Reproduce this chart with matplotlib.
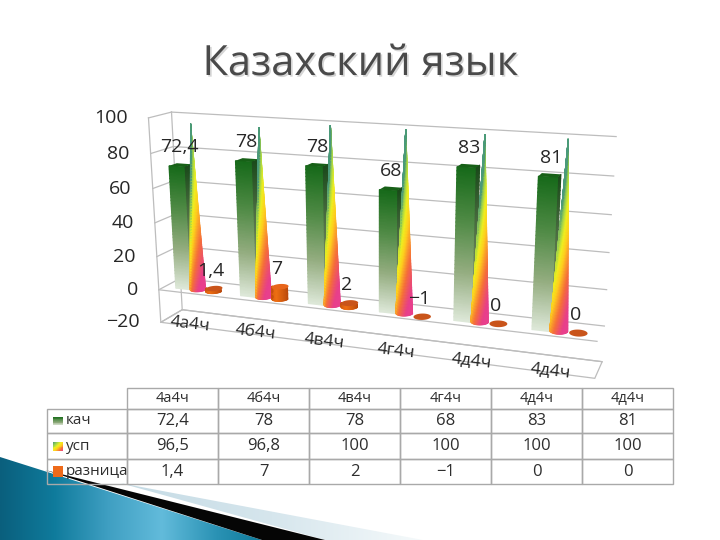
import numpy as np
import matplotlib
matplotlib.use('Agg')
import matplotlib.pyplot as plt
import matplotlib.patheffects as pe
from matplotlib.colors import LinearSegmentedColormap
from matplotlib.patches import Polygon

plt.rcParams['font.family'] = ['Open Sans', 'DejaVu Sans']

# data
classes = ['4а4ч', '4б4ч', '4в4ч', '4г4ч', '4д4ч', '4д4ч']
kach = [72.4, 78, 78, 68, 83, 81]
usp = [96.5, 96.8, 100, 100, 100, 100]
raznica = [1.4, 7, 2, -1, 0, 0]
series_names = ['кач', 'усп', 'разница']
value_ticks = [-20, 0, 20, 40, 60, 80, 100]

fig = plt.figure(figsize=(7.2, 5.4), dpi=100)
ax = fig.add_axes([0, 0, 1, 1])
ax.set_xlim(0, 720)
ax.set_ylim(540, 0)
ax.set_autoscale_on(False)
ax.axis('off')

# perspective of the box: (category, depth, value) -> pixel
n = len(classes)
box = [(0, 0, 100, 148, 118), (n, 0, 100, 609, 145),
       (0, 0, -20, 161, 322), (n, 0, -20, 595, 378),
       (0, 1, 100, 172, 112), (n, 1, 100, 616, 136),
       (0, 1, -20, 182, 310), (n, 1, -20, 602, 362)]
rows, rhs = [], []
for x, d, z, px, py in box:
    rows.append([x, d, z, 1, 0, 0, 0, 0, -px * x, -px * d, -px * z])
    rows.append([0, 0, 0, 0, x, d, z, 1, -py * x, -py * d, -py * z])
    rhs += [px, py]
P = np.linalg.lstsq(np.array(rows, float), np.array(rhs, float), rcond=None)[0]
P = np.append(P, 1).reshape(3, 4)


def project(x, d, z):
    x, d, z = np.broadcast_arrays(x, d, z)
    w = P[2, 0] * x + P[2, 1] * d + P[2, 2] * z + P[2, 3]
    px = (P[0, 0] * x + P[0, 1] * d + P[0, 2] * z + P[0, 3]) / w
    py = (P[1, 0] * x + P[1, 1] * d + P[1, 2] * z + P[1, 3]) / w
    return px, py


def line3(a, b, **kw):
    xs, ys = project(np.array([a[0], b[0]]), np.array([a[1], b[1]]), np.array([a[2], b[2]]))
    ax.plot(xs, ys, color='#bdbdbd', lw=0.9, zorder=2, **kw)


# decoration in the corner
corner = ax.imshow(np.linspace(0, 1, 256).reshape(1, -1), extent=(0, 270, 540, 455), aspect='auto', zorder=1,
                   cmap=LinearSegmentedColormap.from_list('c', ['#0a5f7d', '#0f7b9c', '#3f9fc2', '#62bbdb', '#2b93b5', '#0a7696']))
corner.set_clip_path(Polygon([(0, 457), (262, 540), (0, 540)], transform=ax.transData))
pale = ax.imshow(np.linspace(0, 1, 256).reshape(1, -1), extent=(120, 425, 540, 480), aspect='auto', zorder=1,
                 cmap=LinearSegmentedColormap.from_list('p', ['#c5dbe5', '#d6e6ed', '#f6fafb']))
pale.set_clip_path(Polygon([(120, 483), (423, 540), (325, 540)], transform=ax.transData))
ax.add_patch(Polygon([(45, 470), (325, 540), (262, 540)], fc='#050505', ec='none', zorder=1))

# walls and floor
floor = np.array([project(0, 0, -20), project(n, 0, -20), project(n, 1, -20), project(0, 1, -20)])
ax.add_patch(Polygon(floor, fc='white', ec='#bdbdbd', lw=0.9, zorder=2))
for v in value_ticks:
    line3((0, 1, v), (n, 1, v))
    line3((0, 0, v), (0, 1, v))
    tx, ty = project(0, 0, v)
    label = str(v).replace('-', '−')
    ax.text(tx - 21, ty, label, ha='right', va='center', fontsize=14, color='#262626', zorder=6)
line3((0, 0, 0), (n, 0, 0))
line3((0, 0, -20), (0, 0, 100))
line3((0, 1, -20), (0, 1, 100))

green_front = LinearSegmentedColormap.from_list('gf', ['#dfe9da', '#94ad80', '#4f8a45', '#176a1a'])
green_side = LinearSegmentedColormap.from_list('gs', ['#a3b096', '#5e7a50', '#1b4a1b'])
cone_map = LinearSegmentedColormap.from_list('cone', [(0, '#e83f8c'), (0.2, '#f6703a'), (0.42, '#ffd01e'),
                                                      (0.58, '#f0f020'), (0.75, '#a6d84a'), (1, '#4a9a7a')])
orange_side = LinearSegmentedColormap.from_list('os', ['#b8480c', '#ef6f12', '#c5500c'])

bar_left, bar_w = 0.18, 0.23
bar_d0, bar_d1 = 0.25, 0.6
cone_c, cyl_c, radius = 0.5, 0.74, 0.11
depth_c, depth_r = 0.37, 0.22
t = np.linspace(0, np.pi, 25)


def mesh(X, Y, C, cmap, z):
    ax.pcolormesh(X, Y, C, cmap=cmap, vmin=0, vmax=1, shading='gouraud', zorder=z)


for i in range(n):
    base = 3 + i * 0.01
    # green bar
    x0, x1 = i + bar_left, i + bar_left + bar_w
    zs = np.linspace(0, kach[i], 41).reshape(-1, 1)
    C = np.tile(zs / kach[i], (1, 2))
    X, Y = project(np.array([[x0, x1]]), bar_d0, zs)
    Xs, Ys = project(x1, np.array([[bar_d0, bar_d1]]), zs)
    mesh(Xs, Ys, C, green_side, base)
    mesh(X, Y, C, green_front, base)
    cap = [project(x0, bar_d0, kach[i]), project(x1, bar_d0, kach[i]),
           project(x1, bar_d1, kach[i]), project(x0, bar_d1, kach[i])]
    ax.add_patch(Polygon(cap, fc='#176017', ec='none', zorder=base))

    # cone
    h = np.linspace(0, 1, 61).reshape(-1, 1)
    cx = i + cone_c + radius * (1 - h) * np.cos(t)
    cd = depth_c - depth_r * (1 - h) * np.sin(t)
    X, Y = project(cx, cd, usp[i] * h)
    C = np.clip(h - 0.22 * np.cos(t) + 0.1, 0, 1)
    mesh(X, Y, C, cone_map, base + 0.003)

    # orange cylinder
    cx = i + cyl_c + radius * np.cos(t)
    cd = depth_c - depth_r * np.sin(t)
    if raznica[i] > 0:
        zz = np.linspace(0, raznica[i], 3).reshape(-1, 1)
        X, Y = project(cx, cd, zz)
        C = np.tile(t / np.pi, (3, 1))
        mesh(X, Y, C, orange_side, base + 0.005)
    tt = np.linspace(0, 2 * np.pi, 49)
    top = np.column_stack(project(i + cyl_c + radius * np.cos(tt), depth_c - depth_r * np.sin(tt), raznica[i]))
    col = '#e8651a' if raznica[i] > 3 else '#c9541a'
    ax.add_patch(Polygon(top, fc=col, ec='none', zorder=base + 0.006))

    # labels
    lx, ly = project((x0 + x1) / 2, bar_d0, kach[i])
    ax.text(lx + 3, ly - 19, str(kach[i]).replace('.', ','), ha='center', va='center', fontsize=14, color='#262626', zorder=6)
    lx, ly = project(i + cyl_c, depth_c, raznica[i])
    ax.text(lx - 3, ly - 18, str(raznica[i]).replace('.', ',').replace('-', '−'), ha='center', va='center',
            fontsize=14, color='#262626', zorder=6)
    lx, ly = project(i + 0.45, 0.05, -20)
    ax.text(lx, ly - 1, classes[i], ha='center', va='center', rotation=-6.8, rotation_mode='anchor',
            fontsize=12.5, color='#262626', zorder=6)

# title
ax.text(360, 64, 'Казахский язык', ha='center', va='center', fontsize=30, color='#4a4a4a', zorder=6,
        path_effects=[pe.withSimplePatchShadow(offset=(1.2, -1.2), shadow_rgbFace='#888888', alpha=0.35)])


# table under the chart
def fmt(v):
    return str(v).replace('.', ',').replace('-', '−')


cells = [[''] + classes]
for name, vals in zip(series_names, [kach, usp, raznica]):
    cells.append([name] + [fmt(v) for v in vals])

col_w = [80, 91, 91, 91, 91, 91, 91]
row_h = [21, 24, 26, 25]
tb = ax.table(cellText=cells, colWidths=[w / 626 for w in col_w], cellLoc='center',
              bbox=matplotlib.transforms.Bbox.from_extents(47 / 720, 1 - 484 / 540, 673 / 720, 1 - 388 / 540),
              transform=ax.transAxes, zorder=5)
tb.auto_set_font_size(False)
for (r, c), cell in tb.get_celld().items():
    cell.set_height(row_h[r])
    cell.set_edgecolor('#a9a9a9')
    cell.set_linewidth(1)
    cell.set_facecolor('none')
    cell.set_text_props(color='#2e2e2e', fontsize=10.5 if r == 0 else 12)
    if c == 0:
        cell.PAD = 0.24
        cell.set_text_props(ha='left', fontsize=11)
tb[(0, 0)].visible_edges = ''

# legend keys inside the table
u = np.linspace(0, 1, 11)
ax.pcolormesh(np.linspace(53, 63, 2), np.linspace(417, 425, 11), (0.95 - 0.5 * (u[:-1] + u[1:])).reshape(-1, 1) * 0.9 + 0.1,
              cmap=green_front, vmin=0, vmax=1, zorder=6)
ux, uy = np.meshgrid(0.5 * (u[:-1] + u[1:]), 0.5 * (u[:-1] + u[1:]))
ax.pcolormesh(np.linspace(53, 63, 11), np.linspace(442, 451, 11), 1 - (ux + uy) / 2, cmap=cone_map, vmin=0, vmax=1, zorder=6)
ax.add_patch(Polygon([(53, 466), (63, 466), (63, 477), (53, 477)], fc='#ee6a1a', ec='none', zorder=6))

fig.savefig('out.png', dpi=100)
